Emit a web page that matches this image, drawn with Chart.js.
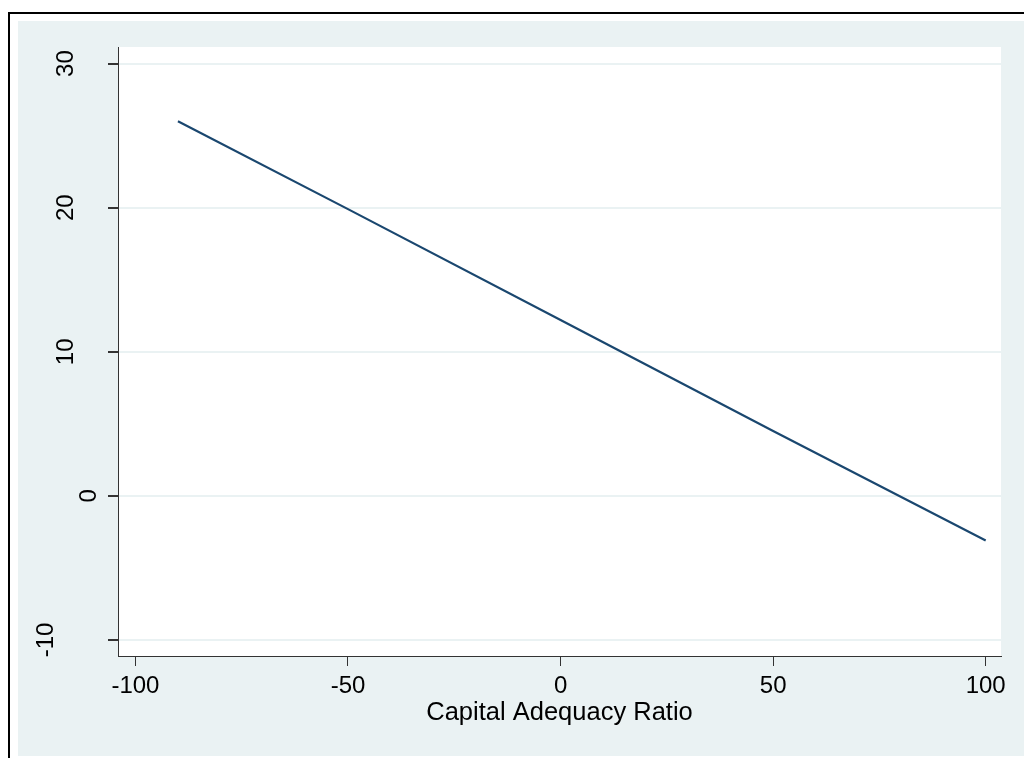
<!DOCTYPE html>
<html>
<head>
<meta charset="utf-8">
<script src="https://cdn.jsdelivr.net/npm/chart.js@4.4.0/dist/chart.umd.min.js"></script>
<style>
  html, body { margin: 0; padding: 0; background: #fff; }
  #wrap { width: 1024px; height: 758px; }
</style>
</head>
<body>
<div id="wrap"><canvas id="myChart" width="1024" height="758"></canvas></div>
<script>
// values
const carValues = [-90, -50, 0, 50, 100];
const fittedValues = [26, 19.9, 12.2, 4.5, -3.1];
const xTicks = [-100, -50, 0, 50, 100];
const yTicks = [-10, 0, 10, 20, 30];

const bgColor = "#eaf2f3";
const lineColor = "#1a476f";
const font = "Liberation Sans, Arial, sans-serif";

// page frame: black border, light blue-grey graph region, white plot area
const framePlugin = {
    id: "frame",
    beforeDraw(chart) {
        const c = chart.ctx;
        const a = chart.chartArea;
        c.save();
        c.fillStyle = "#fff";
        c.fillRect(0, 0, chart.width, chart.height);
        c.strokeStyle = "#000";
        c.lineWidth = 2;
        c.strokeRect(9, 13, chart.width + 20, chart.height + 20);
        c.fillStyle = bgColor;
        c.fillRect(18, 21, chart.width, 735);
        c.fillStyle = "#fff";
        c.fillRect(a.left, a.top, a.right - a.left, a.bottom - a.top);
        c.restore();
    },
};

// y tick labels are rotated like in the original; the original shifts
// them sideways depending on the label length
const yLabelPlugin = {
    id: "yLabels",
    afterDraw(chart) {
        const c = chart.ctx;
        const y = chart.scales.y;
        const xFor = { 1: 89, 2: 66, 3: 46 };
        c.save();
        c.fillStyle = "#000";
        c.font = "24px " + font;
        c.textAlign = "center";
        c.textBaseline = "middle";
        yTicks.forEach(v => {
            const s = String(v);
            c.save();
            c.translate(xFor[s.length] || 66, y.getPixelForValue(v));
            c.rotate(-Math.PI / 2);
            c.fillText(s, 0, 0);
            c.restore();
        });
        c.restore();
    },
};

const ctx = document.getElementById("myChart");
const myChart = new Chart(ctx, {
    type: "line",
    data: {
        datasets: [{
            data: carValues.map((x, i) => ({ x: x, y: fittedValues[i] })),
            borderColor: lineColor,
            borderWidth: 2.2,
            pointRadius: 0,
            fill: false,
            tension: 0,
        }],
    },
    options: {
        responsive: false,
        animation: false,
        layout: { padding: { left: 0, top: 47, right: 23, bottom: 0 } },
        plugins: {
            legend: { display: false },
            tooltip: { enabled: false },
        },
        scales: {
            x: {
                type: "linear",
                min: -104.1,
                max: 103.6,
                afterBuildTicks: s => { s.ticks = xTicks.map(v => ({ value: v })); },
                afterFit: s => { s.height = 102; },
                ticks: {
                    color: "#000",
                    font: { family: font, size: 24 },
                    padding: 6,
                    maxRotation: 0,
                },
                grid: {
                    drawOnChartArea: false,
                    tickLength: 10,
                    tickColor: "#333",
                },
                border: { color: "#333", width: 1 },
                title: {
                    display: true,
                    text: "Capital Adequacy Ratio",
                    color: "#000",
                    font: { family: font, size: 25.5 },
                    padding: { top: 0, bottom: 30 },
                },
            },
            y: {
                type: "linear",
                min: -11.11,
                max: 31.15,
                afterBuildTicks: s => { s.ticks = yTicks.map(v => ({ value: v })); },
                afterFit: s => { s.width = 118; },
                ticks: { display: false },
                grid: {
                    color: bgColor,
                    lineWidth: 2,
                    tickLength: 10,
                    tickColor: "#333",
                },
                border: { color: "#333", width: 1 },
            },
        },
    },
    plugins: [framePlugin, yLabelPlugin],
});
</script>
</body>
</html>
